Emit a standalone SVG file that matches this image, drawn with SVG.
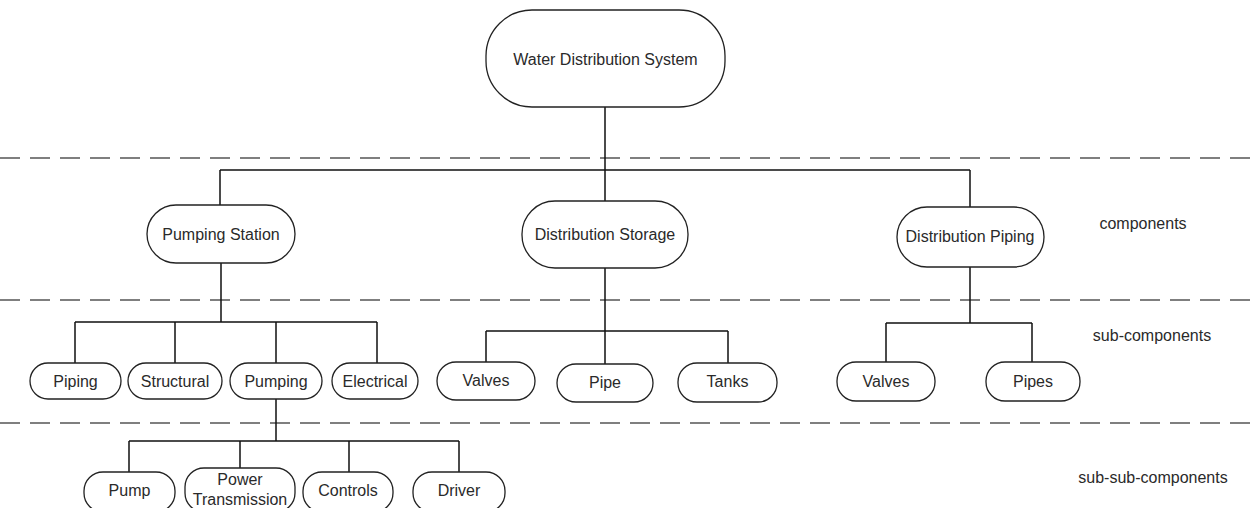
<svg xmlns="http://www.w3.org/2000/svg" width="1252" height="508" viewBox="0 0 1252 508">
<style>
.n{fill:#fff;stroke:#222;stroke-width:1.3}
.t{font-family:"Liberation Sans",Arial,sans-serif;font-size:16px;fill:#2a2a2a;text-anchor:middle}
.l{font-family:"Liberation Sans",Arial,sans-serif;font-size:16px;fill:#2a2a2a;text-anchor:middle}
.c{stroke:#111;stroke-width:1.5;fill:none}
.d{stroke:#555;stroke-width:1.5;stroke-dasharray:20 10;fill:none}
</style>
<rect width="1252" height="508" fill="#fff"/>
<g id="levels">
<line class="d" x1="0" y1="158" x2="1252" y2="158"/>
<line class="d" x1="0" y1="300" x2="1252" y2="300"/>
<line class="d" x1="0" y1="423" x2="1252" y2="423"/>
<text class="l" x="1143" y="229">components</text>
<text class="l" x="1152" y="341">sub-components</text>
<text class="l" x="1153" y="483">sub-sub-components</text>
</g>
<g id="connectors">
<path class="c" d="M605,107V170M220,170H970M220,170V205M605,170V201M970,170V207"/>
<path class="c" d="M221,263V322M75,322H377M75,322V363M175,322V363M276,322V363M377,322V363"/>
<path class="c" d="M276,399V441M129,441H459M129,441V472M240,441V468M349,441V472M459,441V472"/>
<path class="c" d="M605,268V331M486,331H728M486,331V362M605,331V364M728,331V363"/>
<path class="c" d="M970,267V323M886,323H1032M886,323V362M1032,323V362"/>
</g>
<g id="n-wds"><rect class="n" x="486" y="10" width="239" height="97" rx="46"/><text class="t" x="605.5" y="65">Water Distribution System</text></g>
<g id="n-ps"><rect class="n" x="147" y="205" width="148" height="58" rx="29"/><text class="t" x="221" y="240">Pumping Station</text></g>
<g id="n-ds"><rect class="n" x="522" y="201" width="166" height="67" rx="33"/><text class="t" x="605" y="240">Distribution Storage</text></g>
<g id="n-dp"><rect class="n" x="897" y="207" width="147" height="60" rx="30"/><text class="t" x="970" y="242">Distribution Piping</text></g>
<g id="n-piping"><rect class="n" x="30" y="363" width="91" height="36" rx="18"/><text class="t" x="75.5" y="387">Piping</text></g>
<g id="n-structural"><rect class="n" x="128" y="363" width="94" height="36" rx="18"/><text class="t" x="175" y="387">Structural</text></g>
<g id="n-pumping"><rect class="n" x="230" y="363" width="92" height="36" rx="18"/><text class="t" x="276" y="387">Pumping</text></g>
<g id="n-electrical"><rect class="n" x="332" y="363" width="86" height="36" rx="18"/><text class="t" x="375" y="387">Electrical</text></g>
<g id="n-valves1"><rect class="n" x="437" y="362" width="98" height="38" rx="19"/><text class="t" x="486" y="386">Valves</text></g>
<g id="n-pipe"><rect class="n" x="557" y="364" width="96" height="38" rx="19"/><text class="t" x="605" y="388">Pipe</text></g>
<g id="n-tanks"><rect class="n" x="678" y="363" width="99" height="39" rx="19"/><text class="t" x="727.5" y="387">Tanks</text></g>
<g id="n-valves2"><rect class="n" x="837" y="362" width="98" height="39" rx="19"/><text class="t" x="886" y="387">Valves</text></g>
<g id="n-pipes"><rect class="n" x="986" y="362" width="94" height="39" rx="19"/><text class="t" x="1033" y="387">Pipes</text></g>
<g id="n-pump"><rect class="n" x="84" y="472" width="91" height="40" rx="19"/><text class="t" x="129.5" y="496">Pump</text></g>
<g id="n-pt"><rect class="n" x="185" y="468" width="110" height="44" rx="19"/><text class="t" x="240" y="485">Power</text><text class="t" x="240" y="505">Transmission</text></g>
<g id="n-controls"><rect class="n" x="303" y="472" width="90" height="40" rx="19"/><text class="t" x="348" y="496">Controls</text></g>
<g id="n-driver"><rect class="n" x="413" y="472" width="92" height="40" rx="19"/><text class="t" x="459" y="496">Driver</text></g>
</svg>
